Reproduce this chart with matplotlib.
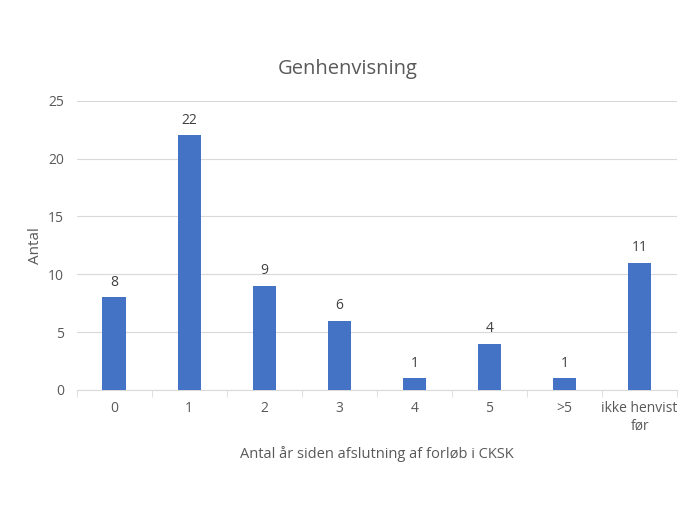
import matplotlib
matplotlib.use("Agg")
import matplotlib.pyplot as plt

categories = ["0", "1", "2", "3", "4", "5", ">5", "ikke henvist\nfør"]
values = [8, 22, 9, 6, 1, 4, 1, 11]

plt.rcParams['font.family'] = ['Open Sans', 'DejaVu Sans']
grey = "#595959"

fig = plt.figure(figsize=(6.96, 5.22), dpi=100)
ax = fig.add_axes([0.110, 0.253, 0.863, 0.554])

x = list(range(len(categories)))
bars = ax.bar(x, values, width=0.31, color="#4472C4", zorder=3)
for xi, v in zip(x, values):
    ax.text(xi, v + 0.65, str(v), ha="center", va="bottom", fontsize=10, color="#404040")

ax.set_xlim(-0.5, len(categories) - 0.5)
ax.set_ylim(0, 25)
ax.set_yticks(range(0, 26, 5))
ax.yaxis.grid(True, color="#D9D9D9", linewidth=0.8, zorder=0)
ax.set_xticks(x)
ax.set_xticklabels(categories, fontsize=10, color=grey)
ax.tick_params(axis="y", length=0, labelsize=10, labelcolor=grey, pad=9)
ax.tick_params(axis="x", length=0, pad=8)
# category boundary ticks
ax.set_xticks([i - 0.5 for i in range(len(categories) + 1)], minor=True)
ax.tick_params(axis="x", which="minor", length=5, color="#D9D9D9", direction="out")

for s in ["top", "right", "left"]:
    ax.spines[s].set_visible(False)
ax.spines["bottom"].set_color("#D9D9D9")

ax.set_ylabel("Antal", fontsize=11, color=grey, labelpad=4)
ax.set_xlabel("Antal år siden afslutning af forløb i CKSK", fontsize=10.5, color=grey, labelpad=9)
fig.text(0.5, 0.867, "Genhenvisning", ha="center", va="center", fontsize=14.5, color=grey)

fig.savefig("out.png", dpi=100)
